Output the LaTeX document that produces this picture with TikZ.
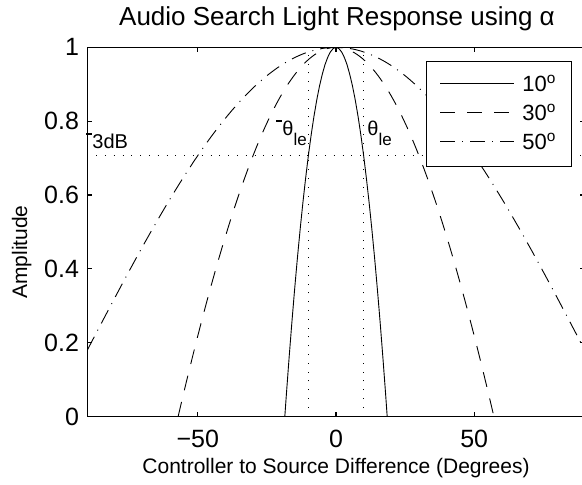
\documentclass[tikz,border=0pt]{standalone}
\usepackage{fontspec}
\setmainfont{Liberation Sans}
\usetikzlibrary{calc}
\tikzset{
  axisline/.style={line width=0.6pt},
  keybox/.style={line width=0.5pt, fill=white},
  curve10/.style={line width=0.45pt},
  curve30/.style={line width=0.45pt, dash pattern=on 7.5pt off 6pt},
  curve50/.style={line width=0.45pt, dash pattern=on 7.5pt off 3.5pt on 0.5pt off 3.5pt},
  guide/.style={line width=0.55pt, dash pattern=on 0.5pt off 3.9pt},
  ticklab/.style={font=\fontsize{12.5}{14}\selectfont, inner sep=0pt},
  axlab/.style={font=\fontsize{10.5}{12}\selectfont, inner sep=0pt},
  keylab/.style={font=\fontsize{11}{13}\selectfont, inner sep=0pt, anchor=west},
  note/.style={font=\fontsize{10}{12}\selectfont, inner sep=0pt, anchor=base west}
}
\newcommand{\capbar}{\rule[6.6pt]{3pt}{0.7pt}}
\newcommand{\sublow}[1]{\raisebox{-5pt}{\fontsize{8.5}{9}\selectfont #1}}

\begin{document}
\begin{tikzpicture}[x=0.5pt,y=0.5pt]
  \useasboundingbox (0,0) rectangle (582,484);
  \fill[white] (0,0) rectangle (582,484);

  % data frame: theta from -90 to 90, amplitude from 0 to 1
  \begin{scope}[shift={(168pt,33.75pt)}, x=1.3815pt, y=184.6pt]
    \clip (-90,0) rectangle (90,1);
    \draw[guide] (-90,0.70711) -- (90,0.70711);
    \draw[guide] (-10,0) -- (-10,1);
    \draw[guide] (10,0) -- (10,1);
    \foreach \ang/\sty in {10/curve10,30/curve30,50/curve50}{
      \pgfmathsetmacro\cfix{(cos(\ang)-0.70711)/0.29289}
      \pgfmathsetmacro\thmax{min(acos(\cfix),90)}
      \draw[\sty] plot[domain=-\thmax:\thmax, samples=121, smooth]
        (\x,{(cos(\x)-\cfix)/(1-\cfix)});
    }
  \end{scope}

  \begin{scope}[shift={(168pt,33.75pt)}, x=1.3815pt, y=184.6pt]
    \draw[axisline] (-90,0) rectangle (90,1);
    \foreach \t in {-50,0,50}{
      \draw[axisline] (\t,0) -- ++(0pt,2.2pt);
      \draw[axisline] (\t,1) -- ++(0pt,-2.2pt);
      \node[ticklab, anchor=north] (xt\t) at ([yshift=-6.7pt]\t,0) {\ifnum\t<0 −\number-\t\else\t\fi};
    }
    \foreach \v in {0,0.2,0.4,0.6,0.8,1}{
      \draw[axisline] (-90,\v) -- ++(2.2pt,0pt);
      \draw[axisline] (90,\v) -- ++(-2.2pt,0pt);
      \node[ticklab, anchor=east] (yt\v) at ([xshift=-4pt]-90,\v) {\v};
    }
  \end{scope}

  % legend
  \draw[keybox] (426,318) rectangle (571,423);
  \draw[curve10] (440,401) -- (514,401);
  \node[keylab] (key10) at (522,401) {10\textsuperscript{o}};
  \draw[curve30] (440,371.5) -- (514,371.5);
  \node[keylab] (key30) at (522,371.5) {30\textsuperscript{o}};
  \draw[curve50] (440,343) -- (514,343);
  \node[keylab] (key50) at (522,343) {50\textsuperscript{o}};

  % notes
  \node[note] (db) at (86,336) {\capbar 3dB};
  \node[note] (thl) at (276,349) {\capbar θ\sublow{le}};
  \node[note] (thr) at (367,349) {θ\sublow{le}};

  \node[font=\fontsize{13}{15}\selectfont, inner sep=0pt, anchor=base] (title) at (337,459) {Audio Search Light Response using α};
  \node[axlab, anchor=base] (xlab) at (336,11) {Controller to Source Difference (Degrees)};
  \node[axlab, rotate=90, anchor=base] (ylab) at (27,232) {Amplitude};
\end{tikzpicture}
\end{document}
